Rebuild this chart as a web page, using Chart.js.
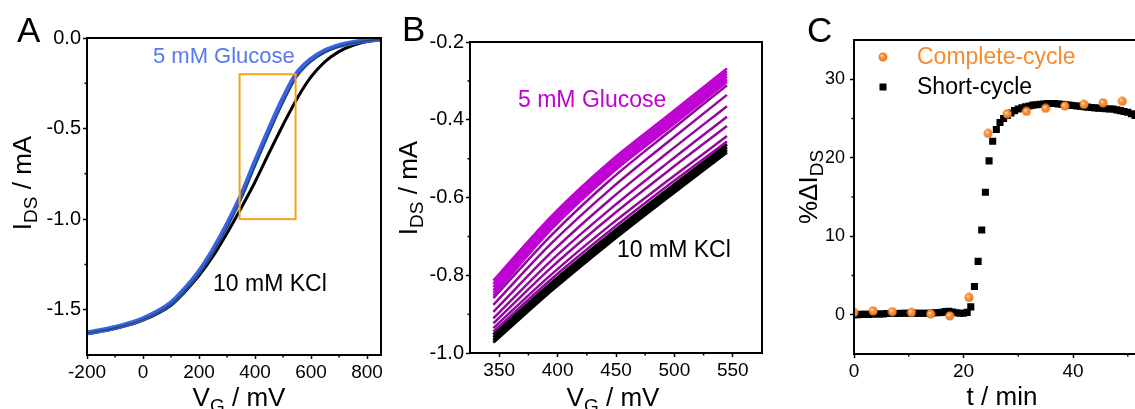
<!DOCTYPE html>
<html>
<head>
<meta charset="utf-8">
<script src="https://cdn.jsdelivr.net/npm/chart.js@4.4.1/dist/chart.umd.min.js"></script>
<style>
  html, body { margin: 0; padding: 0; background: #fff; overflow: hidden; }
  body { width: 1135px; height: 409px; position: relative; }
  canvas { position: absolute; top: 0; }
</style>
</head>
<body>
<canvas id="chartA" width="385" height="409" style="left:0px"></canvas>
<canvas id="chartB" width="380" height="409" style="left:385px"></canvas>
<canvas id="chartC" width="430" height="409" style="left:765px"></canvas>
<script>
// A: full transfer curves, I_DS (mA) vs V_G (mV)
const vgA = [-200, -100, 0, 100, 150, 200, 250, 300, 350, 400, 450, 500, 550, 600, 650, 700, 750, 800, 850];
const kclA = [-1.633, -1.604, -1.558, -1.475, -1.400, -1.312, -1.205, -1.078, -0.940, -0.795, -0.635, -0.480, -0.335, -0.215, -0.130, -0.075, -0.040, -0.020, -0.010];
const glucoseA = [-1.628, -1.598, -1.550, -1.463, -1.385, -1.290, -1.170, -1.030, -0.872, -0.685, -0.505, -0.335, -0.195, -0.118, -0.070, -0.042, -0.025, -0.013, -0.006];
const glucoseDarkA = [-1.630, -1.601, -1.555, -1.470, -1.395, -1.302, -1.185, -1.048, -0.893, -0.710, -0.530, -0.360, -0.215, -0.132, -0.080, -0.048, -0.028, -0.015, -0.007];
const boxVg = [345, 545];
const boxIds = [-1.0, -0.2];
const ticksAx = [-200, 0, 200, 400, 600, 800];
const minorAx = [-100, 100, 300, 500, 700];
const ticksAy = [0, -0.5, -1.0, -1.5];
const minorAy = [-0.25, -0.75, -1.25];

// B: zoom on 345..545 mV, one curve per measurement
const vgB = [345, 395, 445, 495, 545];
const glucoseBandB = [
  [-0.814, -0.647, -0.507, -0.388, -0.268],
  [-0.822, -0.654, -0.514, -0.395, -0.275],
  [-0.830, -0.661, -0.521, -0.402, -0.282],
  [-0.838, -0.668, -0.528, -0.409, -0.289],
  [-0.845, -0.675, -0.535, -0.416, -0.296],
  [-0.852, -0.681, -0.541, -0.422, -0.302]
];
const rampB = [
  [-0.859, -0.696, -0.555, -0.432, -0.311],
  [-0.876, -0.717, -0.579, -0.456, -0.336],
  [-0.894, -0.740, -0.605, -0.483, -0.365],
  [-0.911, -0.761, -0.630, -0.509, -0.392],
  [-0.924, -0.779, -0.650, -0.531, -0.416],
  [-0.936, -0.797, -0.671, -0.555, -0.442],
  [-0.945, -0.809, -0.685, -0.568, -0.456]
];
const kclB = [
  [-0.953, -0.819, -0.695, -0.578, -0.463],
  [-0.960, -0.826, -0.702, -0.585, -0.470],
  [-0.967, -0.833, -0.709, -0.592, -0.477],
  [-0.973, -0.839, -0.715, -0.598, -0.484]
];
const ticksBx = [350, 400, 450, 500, 550];
const minorBx = [375, 425, 475, 525];
const ticksBy = [-0.2, -0.4, -0.6, -0.8, -1.0];
const minorBy = [-0.3, -0.5, -0.7, -0.9];

// C: %ΔI_DS vs time (min)
const tComplete = [0, 3.5, 7, 10.5, 14, 17.5, 21, 24.5, 28, 31.5, 35, 38.5, 42, 45.5, 49];
const dComplete = [0.3, 0.5, 0.4, 0.3, 0.1, -0.15, 2.2, 23.1, 25.6, 25.9, 26.3, 26.6, 26.8, 27.0, 27.2];
const tShort = [
  0, 0.67, 1.33, 2, 2.67, 3.33, 4, 4.67, 5.33, 6,
  6.67, 7.33, 8, 8.67, 9.33, 10, 10.67, 11.33, 12, 12.67,
  13.33, 14, 14.67, 15.33, 16, 16.67, 17.33, 18, 18.67, 19.33,
  20, 20.67, 21.33, 22, 22.67, 23.33, 24, 24.67, 25.33, 26,
  26.67, 27.33, 28, 28.67, 29.33, 30, 30.67, 31.33, 32, 32.67,
  33.33, 34, 34.67, 35.33, 36, 36.67, 37.33, 38, 38.67, 39.33,
  40, 40.67, 41.33, 42, 42.67, 43.33, 44, 44.67, 45.33, 46,
  46.67, 47.33, 48, 48.67, 49.33, 50, 50.67, 51.33, 52
];
const dShort = [
  0.0, 0.0, 0.05, 0.05, 0.05, 0.1, 0.1, 0.1, 0.1, 0.15,
  0.15, 0.15, 0.15, 0.2, 0.2, 0.2, 0.2, 0.2, 0.2, 0.2,
  0.2, 0.2, 0.25, 0.25, 0.3, 0.4, 0.45, 0.35, 0.25, 0.2,
  0.2, 0.3, 1.0, 3.6, 6.8, 10.8, 15.6, 19.6, 22.1, 23.6,
  24.5, 25.0, 25.4, 25.7, 26.0, 26.2, 26.35, 26.5, 26.6, 26.7,
  26.75, 26.8, 26.85, 26.9, 26.9, 26.9, 26.85, 26.8, 26.75, 26.7,
  26.65, 26.6, 26.55, 26.5, 26.45, 26.4, 26.35, 26.3, 26.3, 26.25,
  26.2, 26.2, 26.1, 26.0, 25.9, 25.8, 25.6, 25.4, 25.2
];
const ticksCx = [0, 20, 40, 60];
const minorCx = [10, 30, 50];
const ticksCy = [0, 10, 20, 30];
const minorCy = [5, 15, 25];

const FONT = '"Liberation Sans", Arial, sans-serif';
const pts = (xs, ys) => xs.map((x, i) => ({ x: x, y: ys[i] }));

// shaded orange marker used for the complete-cycle points
function makeBall() {
  const c = document.createElement('canvas');
  c.width = 10; c.height = 10;
  const g = c.getContext('2d');
  const grad = g.createRadialGradient(3.7, 3.7, 0.2, 5, 5, 4.8);
  grad.addColorStop(0, '#fff3e2');
  grad.addColorStop(0.3, '#fb9d48');
  grad.addColorStop(1, '#e9721a');
  g.fillStyle = grad;
  g.beginPath(); g.arc(5, 5, 4.5, 0, Math.PI * 2); g.fill();
  return c;
}
const ball = makeBall();

// text with optional subscript runs, e.g. [['I'], ['DS', 1], [' / mA']]
function drawRich(ctx, t) {
  const size = t.size;
  const fontOf = sub => (sub ? Math.round(size * 0.72) : size) + 'px ' + FONT;
  ctx.save();
  ctx.translate(t.x, t.y);
  if (t.rotate) ctx.rotate(-Math.PI / 2);
  let w = 0;
  t.parts.forEach(p => { ctx.font = fontOf(p[1]); w += ctx.measureText(p[0]).width; });
  let cx = t.align === 'left' ? 0 : -w / 2;
  ctx.fillStyle = t.color || '#000';
  ctx.textAlign = 'left';
  ctx.textBaseline = 'alphabetic';
  t.parts.forEach(p => {
    ctx.font = fontOf(p[1]);
    ctx.fillText(p[0], cx, p[1] ? size * 0.24 : 0);
    cx += ctx.measureText(p[0]).width;
  });
  ctx.restore();
}

// frame, minor ticks, inset box, labels and legend markers
const deco = {
  id: 'deco',
  afterDraw(chart, args, o) {
    const ctx = chart.ctx, a = chart.chartArea;
    const xs = chart.scales.x, ys = chart.scales.y;
    ctx.save();
    if (o.box) {
      ctx.strokeStyle = o.box.color;
      ctx.lineWidth = 2;
      const x0 = xs.getPixelForValue(o.box.x[0]), x1 = xs.getPixelForValue(o.box.x[1]);
      const y0 = ys.getPixelForValue(o.box.y[1]), y1 = ys.getPixelForValue(o.box.y[0]);
      ctx.strokeRect(x0, y0, x1 - x0, y1 - y0);
    }
    ctx.strokeStyle = '#000';
    ctx.lineWidth = 2;
    ctx.strokeRect(a.left, a.top, a.right - a.left, a.bottom - a.top);
    ctx.lineWidth = 1.5;
    ctx.beginPath();
    (o.minorX || []).forEach(v => {
      const px = xs.getPixelForValue(v);
      ctx.moveTo(px, a.bottom); ctx.lineTo(px, a.bottom + 2.5);
    });
    (o.minorY || []).forEach(v => {
      const py = ys.getPixelForValue(v);
      ctx.moveTo(a.left, py); ctx.lineTo(a.left - 2.5, py);
    });
    ctx.stroke();
    (o.markers || []).forEach(m => {
      if (m.kind === 'ball') ctx.drawImage(ball, m.x - 5, m.y - 5);
      else { ctx.fillStyle = '#000'; ctx.fillRect(m.x - 3.5, m.y - 3.5, 7, 7); }
    });
    (o.texts || []).forEach(t => drawRich(ctx, t));
    ctx.restore();
  }
};

function linScale(min, max, values, fmt, fit, size, pad) {
  return {
    type: 'linear', min: min, max: max,
    afterBuildTicks: s => { s.ticks = values.map(v => ({ value: v })); },
    afterFit: s => {
      Object.assign(s, fit);
      s.paddingLeft = 0; s.paddingRight = 0; s.paddingTop = 0; s.paddingBottom = 0;
    },
    grid: { drawOnChartArea: false, drawTicks: true, tickLength: 4, tickWidth: 1.5, tickColor: '#000' },
    border: { display: false },
    ticks: { color: '#000', padding: pad, autoSkip: false, maxRotation: 0, font: { family: FONT, size: size }, callback: fmt }
  };
}

function baseOptions(padding, scales, decoOpts) {
  return {
    responsive: false, animation: false, events: [],
    layout: { padding: padding, autoPadding: false },
    scales: scales,
    plugins: { legend: { display: false }, tooltip: { enabled: false }, deco: decoOpts }
  };
}

const curve = (xs, ys, color, width) => ({
  data: pts(xs, ys), borderColor: color, borderWidth: width,
  pointRadius: 0, fill: false, cubicInterpolationMode: 'monotone'
});

const fmt1 = v => v.toFixed(1);
const fmt0 = v => String(v);

new Chart(document.getElementById('chartA'), {
  type: 'line',
  data: {
    datasets: [
      curve(vgA, glucoseDarkA, '#1d4d6e', 1.5),
      curve(vgA, glucoseA, '#3b62e4', 5),
      curve(vgA, kclA, '#000', 3)
    ]
  },
  options: baseOptions({ left: 0, top: 38, right: 4, bottom: 0 }, {
    x: linScale(-200, 850, ticksAx, fmt0, { height: 54 }, 19, 2),
    y: linScale(-1.75, 0, ticksAy, fmt1, { width: 87 }, 20, 2)
  }, {
    minorX: minorAx, minorY: minorAy,
    box: { x: boxVg, y: boxIds, color: '#f7a21c' },
    texts: [
      { parts: [['A']], x: 17, y: 42, size: 35, align: 'left' },
      { parts: [['V'], ['G', 1], [' / mV']], x: 239, y: 406, size: 26 },
      { parts: [['I'], ['DS', 1], [' / mA']], x: 31, y: 183, size: 26, rotate: true },
      { parts: [['5 mM Glucose']], x: 153, y: 63, size: 22, color: '#5779ee', align: 'left' },
      { parts: [['10 mM KCl']], x: 213, y: 291, size: 23, align: 'left' }
    ]
  }),
  plugins: [deco]
});

new Chart(document.getElementById('chartB'), {
  type: 'line',
  data: {
    datasets: [].concat(
      glucoseBandB.map(ys => curve(vgB, ys, '#bf00d2', 2.5)),
      rampB.map(ys => curve(vgB, ys, '#92079e', 2.5)),
      kclB.map(ys => curve(vgB, ys, '#000', 3))
    )
  },
  options: baseOptions({ left: 0, top: 42, right: 3, bottom: 0 }, {
    x: linScale(325, 575, ticksBx, fmt0, { height: 56 }, 19, 2),
    y: linScale(-1.0, -0.2, ticksBy, fmt1, { width: 85 }, 20, 2)
  }, {
    minorX: minorBx, minorY: minorBy,
    texts: [
      { parts: [['B']], x: 17, y: 41, size: 35, align: 'left' },
      { parts: [['V'], ['G', 1], [' / mV']], x: 228, y: 406, size: 26 },
      { parts: [['I'], ['DS', 1], [' / mA']], x: 32, y: 188, size: 26, rotate: true },
      { parts: [['5 mM Glucose']], x: 133, y: 107, size: 23, color: '#bf00d2', align: 'left' },
      { parts: [['10 mM KCl']], x: 232, y: 257, size: 23, align: 'left' }
    ]
  }),
  plugins: [deco]
});

new Chart(document.getElementById('chartC'), {
  type: 'scatter',
  data: {
    datasets: [
      { data: pts(tComplete, dComplete), pointStyle: ball, pointRadius: 5 },
      { data: pts(tShort, dShort), pointStyle: 'rect', pointRadius: 5, backgroundColor: '#000', borderWidth: 0 }
    ]
  },
  options: baseOptions({ left: 0, top: 40, right: 12.5, bottom: 0 }, {
    x: linScale(0, 60, ticksCx, fmt0, { height: 55 }, 19, 2),
    y: linScale(-5, 35, ticksCy, fmt0, { width: 89 }, 18, 5)
  }, {
    minorX: minorCx, minorY: minorCy,
    markers: [{ kind: 'ball', x: 118, y: 57 }, { kind: 'square', x: 118, y: 87 }],
    texts: [
      { parts: [['C']], x: 42, y: 42, size: 35, align: 'left' },
      { parts: [['t / min']], x: 237, y: 405, size: 26 },
      { parts: [['%ΔI'], ['DS', 1]], x: 52, y: 187, size: 26, rotate: true },
      { parts: [['Complete-cycle']], x: 152, y: 64, size: 23, color: '#f58b2e', align: 'left' },
      { parts: [['Short-cycle']], x: 152, y: 94, size: 23, align: 'left' }
    ]
  }),
  plugins: [deco]
});
</script>
</body>
</html>
